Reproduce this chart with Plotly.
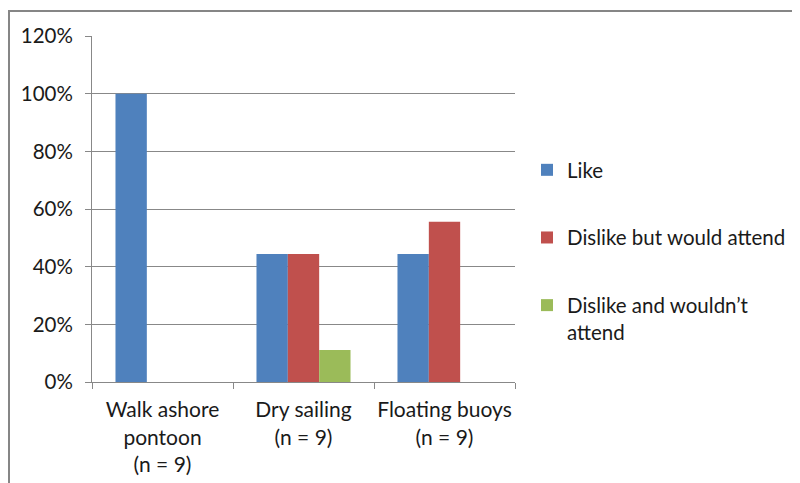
import plotly.graph_objects as go

categories = ["Walk ashore<br>pontoon<br>(n = 9)", "Dry sailing<br>(n = 9)", "Floating buoys<br>(n = 9)"]
series_names = ["Like", "Dislike but would attend", "Dislike and wouldn\u2019t<br>attend"]
like = [1.0, 0.444, 0.444]
dislike_attend = [0.0, 0.444, 0.556]
dislike_not = [0.0, 0.111, 0.0]
y_ticks = [0, 0.2, 0.4, 0.6, 0.8, 1.0, 1.2]

colors = ["#4F81BD", "#C0504D", "#9BBB59"]
FONT = "Lato"
TXT = "#1a1a1a"
GRID = "#888888"

fig = go.Figure()
for i, (name, vals) in enumerate(zip(series_names, [like, dislike_attend, dislike_not])):
    fig.add_trace(go.Bar(
        x=categories, y=vals, name=name,
        marker=dict(color=colors[i], line=dict(width=0)),
        legendgroup=f"g{i}",
    ))

# page offset from html body margin
OFF = 8
L, R, T, B = 92, 515, 36, 382   # plot area in page pixels
W, H = 800, 483
pw, ph = R - L, B - T

fig.update_layout(
    width=W, height=H,
    margin=dict(l=L - OFF, r=W - (R - OFF), t=T - OFF, b=H - (B - OFF), pad=0, autoexpand=False),
    paper_bgcolor="white", plot_bgcolor="white",
    barmode="group", bargap=0.333, bargroupgap=0,
    font=dict(family=FONT, size=21, color=TXT),
    legend=dict(
        x=(527 - L) / pw, xanchor="left",
        y=(B - 150) / ph, yanchor="top",
        traceorder="grouped", tracegroupgap=38,
        valign="top",
        font=dict(family=FONT, size=20.5, color=TXT),
        bgcolor="rgba(0,0,0,0)",
    ),
    showlegend=True,
)
fig.update_xaxes(
    showline=True, linecolor=GRID, linewidth=1,
    ticks="outside", tickson="boundaries", ticklen=6, tickcolor=GRID,
    showgrid=False, ticklabelstandoff=9, tickangle=0, automargin=False,
)
fig.update_yaxes(
    range=[0, 1.2], tickvals=y_ticks, tickformat=".0%",
    showline=True, linecolor=GRID, linewidth=1,
    ticks="outside", ticklen=6, tickcolor=GRID,
    showgrid=True, gridcolor=GRID, gridwidth=1,
    zeroline=False, ticklabelstandoff=8, automargin=False,
    tickfont=dict(size=20.5),
)
# chart outer border
fig.add_shape(type="rect", xref="paper", yref="paper",
              x0=(9 - L) / pw, x1=(830 - L) / pw,
              y0=(B - 520) / ph, y1=(B - 11) / ph,
              line=dict(color="#868686", width=2), fillcolor="rgba(0,0,0,0)", layer="below")

fig.write_html("out.html")
